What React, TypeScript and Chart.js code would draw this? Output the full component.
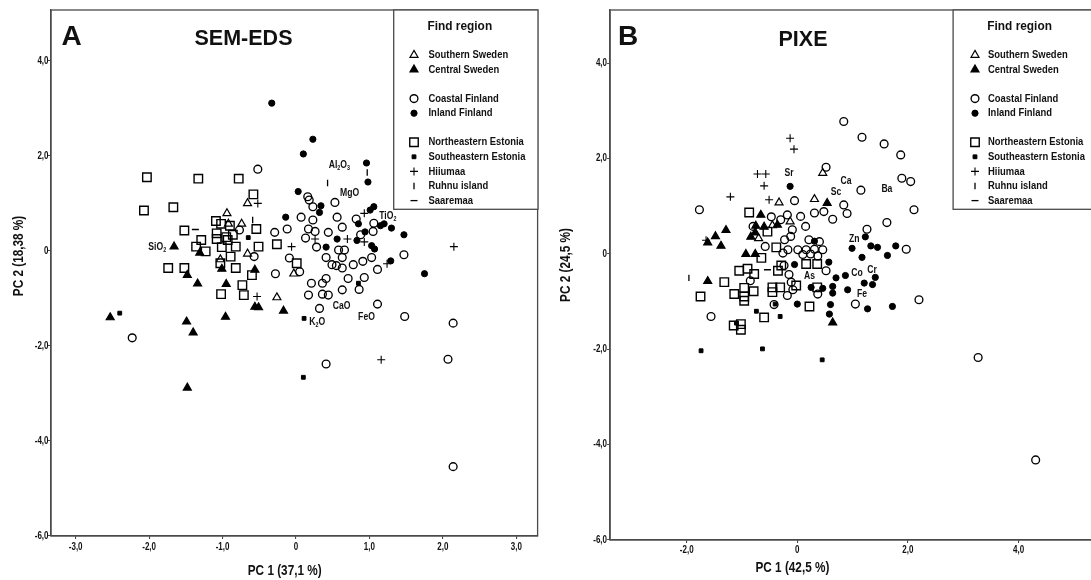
import React, { useEffect, useRef } from 'react';
import { Chart, registerables } from 'chart.js';

Chart.register(...registerables);

type Pt = [number, number];

const regionNames = [
  'Southern Sweden', 'Central Sweden', 'Coastal Finland', 'Inland Finland',
  'Northeastern Estonia', 'Southeastern Estonia', 'Hiiumaa', 'Ruhnu island', 'Saaremaa',
];

// ---------- Panel A : SEM-EDS ----------
const semSouthernSweden: Pt[] = [[-0.94,0.79],[-0.92,0.57],[-0.74,0.57],[-0.66,1.00],[-0.66,-0.06],[-1.03,-0.18],[-0.03,-0.48],[-0.26,-0.98]];
const semCentralSweden: Pt[] = [[-1.66,0.09],[-1.31,-0.04],[-1.48,-0.51],[-1.34,-0.69],[-0.95,-0.70],[-1.01,-0.38],[-0.56,-0.40],[-0.56,-1.18],[-0.51,-1.19],[-0.17,-1.26],[-1.49,-1.49],[-0.96,-1.39],[-1.40,-1.72],[-2.53,-1.40],[-1.48,-2.88]];
const semCoastalFinland: Pt[] = [[-0.52,1.72],[-0.77,0.44],[-0.57,-0.12],[-0.29,0.39],[-0.12,0.46],[-0.09,-0.15],[0.07,0.71],[0.23,0.65],[0.17,0.46],[0.26,0.41],[0.13,0.27],[0.28,0.08],[0.16,1.14],[0.18,1.07],[0.23,0.93],[0.53,1.02],[0.56,0.71],[0.44,0.39],[0.63,0.50],[0.82,0.67],[0.88,0.34],[1.06,0.58],[1.05,0.41],[0.58,0.02],[0.66,0.02],[0.41,-0.14],[0.63,-0.14],[0.49,-0.29],[0.55,-0.31],[0.63,-0.36],[0.78,-0.29],[0.91,-0.22],[1.03,-0.14],[1.11,-0.39],[1.47,-0.08],[-0.28,-0.48],[0.05,-0.44],[0.41,-0.58],[0.21,-0.68],[0.36,-0.68],[0.71,-0.58],[0.93,-0.56],[0.17,-0.93],[0.36,-0.91],[0.44,-0.93],[0.63,-0.82],[0.86,-0.81],[0.32,-1.21],[1.11,-1.12],[1.48,-1.38],[2.14,-1.52],[-2.23,-1.83],[0.41,-2.38],[2.07,-2.28],[2.14,-4.54]];
const semInlandFinland: Pt[] = [[-0.33,3.11],[0.23,2.35],[0.10,2.04],[0.96,1.85],[0.98,1.45],[0.03,1.25],[0.34,0.95],[0.32,0.81],[1.06,0.93],[1.01,0.86],[-0.14,0.71],[0.85,0.57],[1.15,0.53],[1.20,0.57],[1.30,0.48],[1.47,0.34],[0.94,0.40],[0.56,0.25],[0.83,0.22],[0.41,0.08],[1.03,0.11],[1.07,0.04],[1.29,-0.21],[1.75,-0.48]];
const semNEEstonia: Pt[] = [[-2.03,1.55],[-1.33,1.52],[-0.78,1.52],[-2.07,0.85],[-1.67,0.92],[-0.58,1.19],[-1.52,0.43],[-1.29,0.23],[-1.36,0.09],[-1.23,-0.01],[-1.09,0.63],[-1.02,0.57],[-1.08,0.25],[-1.08,0.37],[-0.90,0.53],[-1.01,0.08],[-0.93,0.23],[-0.86,0.34],[-0.95,0.29],[-0.82,0.09],[-0.54,0.46],[-0.51,0.09],[-0.26,0.14],[-0.89,-0.12],[-1.03,-0.26],[-0.82,-0.36],[-1.74,-0.36],[-1.52,-0.36],[0.01,-0.26],[-0.60,-0.51],[-0.73,-0.72],[-1.02,-0.91],[-0.71,-0.93]];
const semSEEstonia: Pt[] = [[-2.40,-1.31],[0.11,-1.42],[0.10,-2.66],[-0.65,0.28],[0.85,-0.68]];
const semHiiumaa: Pt[] = [[-0.52,1.00],[-0.06,0.09],[0.26,0.25],[0.70,0.25],[0.93,0.79],[0.93,0.19],[2.15,0.09],[1.24,-0.27],[-0.53,-0.96],[1.16,-2.29]];
const semRuhnu: Pt[] = [[0.97,1.65],[0.43,1.43],[-0.59,0.65]];
const semSaaremaa: Pt[] = [[-1.37,0.45]];

const semXTicks = [-3, -2, -1, 0, 1, 2, 3];
const semYTicks = [-6, -4, -2, 0, 2, 4];
const semLoadingNames = ['SiO_2', 'Al_2O_3', 'MgO', 'TiO_2', 'CaO', 'K_2O', 'FeO'];
const semLoadingX = [-1.89, 0.59, 0.73, 1.25, 0.62, 0.29, 0.96];
const semLoadingY = [0.09, 1.81, 1.21, 0.74, -1.17, -1.49, -1.40];

// ---------- Panel B : PIXE ----------
const pixeSouthernSweden: Pt[] = [[0.46,1.70],[-0.33,1.08],[0.31,1.15],[-0.13,0.68],[-0.70,0.33],[-0.45,0.60]];
const pixeCentralSweden: Pt[] = [[0.54,1.07],[-0.66,0.82],[-1.29,0.50],[-1.48,0.37],[-1.62,0.24],[-1.38,0.17],[-0.75,0.59],[-0.60,0.57],[-0.36,0.61],[-0.84,0.36],[-0.76,0.45],[-0.93,0.00],[-0.76,0.00],[-1.62,-0.57],[0.64,-1.44]];
const pixeCoastalFinland: Pt[] = [[0.84,2.78],[1.17,2.45],[1.57,2.31],[1.87,2.08],[1.89,1.59],[2.05,1.52],[2.11,0.93],[1.62,0.66],[1.26,0.52],[1.15,1.34],[0.52,1.82],[0.84,1.03],[0.90,0.85],[0.64,0.73],[0.48,0.89],[0.31,0.86],[-0.05,1.12],[-1.77,0.93],[0.06,0.79],[-0.18,0.82],[-0.47,0.78],[-0.30,0.72],[0.15,0.58],[-0.09,0.51],[-0.80,0.58],[-0.12,0.37],[-0.23,0.30],[-0.58,0.16],[0.21,0.30],[0.40,0.26],[1.97,0.10],[-0.17,0.09],[0.01,0.09],[0.16,0.09],[0.31,0.10],[0.46,0.09],[-0.26,0.02],[0.10,-0.01],[0.24,0.00],[0.37,-0.04],[-0.24,-0.24],[0.52,-0.35],[-0.15,-0.43],[-0.85,-0.56],[-0.11,-0.59],[-0.08,-0.75],[-0.18,-0.87],[0.37,-0.84],[1.05,-1.05],[2.20,-0.96],[-0.42,-1.06],[-1.56,-1.31],[3.27,-2.17],[4.31,-4.32]];
const pixeInlandFinland: Pt[] = [[-0.13,1.42],[1.23,0.36],[0.31,0.27],[0.99,0.12],[1.33,0.17],[1.45,0.14],[1.78,0.17],[1.17,-0.07],[1.63,-0.03],[-0.05,-0.22],[0.57,-0.17],[0.70,-0.50],[0.87,-0.45],[1.41,-0.49],[1.21,-0.61],[1.36,-0.64],[0.25,-0.70],[0.46,-0.72],[0.64,-0.68],[0.64,-0.82],[0.91,-0.75],[0.00,-1.05],[0.60,-1.06],[1.27,-1.15],[1.72,-1.10],[0.58,-1.26]];
const pixeNEEstonia: Pt[] = [[-0.87,0.87],[-0.54,0.47],[-0.38,0.14],[-0.65,-0.08],[-1.05,-0.35],[-0.90,-0.31],[-0.78,-0.42],[-1.32,-0.59],[-1.75,-0.89],[-1.14,-0.84],[-0.96,-0.71],[-0.96,-0.89],[-0.79,-0.78],[-0.96,-0.98],[-0.45,-0.70],[-0.45,-0.80],[-0.31,-0.70],[-0.29,-0.24],[-0.35,-0.35],[-0.02,-0.66],[0.16,-0.21],[0.36,-0.21],[0.36,-0.70],[0.22,-1.10],[-0.60,-1.33],[-1.15,-1.50],[-1.02,-1.47],[-1.02,-1.59]];
const pixeSEEstonia: Pt[] = [[-1.74,-2.03],[-0.63,-1.99],[0.45,-2.22],[-0.74,-1.20],[-0.31,-1.31],[-0.40,-1.05],[-1.10,-1.45]];
const pixeHiiumaa: Pt[] = [[-0.13,2.43],[-0.06,2.20],[-0.72,1.68],[-0.57,1.68],[-0.60,1.43],[-1.21,1.20],[-0.51,1.14],[-1.65,0.29]];
const pixeRuhnu: Pt[] = [[-1.96,-0.50]];
const pixeSaaremaa: Pt[] = [[-0.54,-0.33]];

const pixeXTicks = [-2, 0, 2, 4];
const pixeYTicks = [-6, -4, -2, 0, 2, 4];
const pixeLoadingNames = ['Sr', 'Ca', 'Sc', 'Ba', 'Zn', 'As', 'Co', 'Cr', 'Fe'];
const pixeLoadingX = [-0.15, 0.88, 0.70, 1.62, 1.03, 0.22, 1.08, 1.35, 1.17];
const pixeLoadingY = [1.69, 1.54, 1.29, 1.36, 0.32, -0.47, -0.40, -0.33, -0.84];

// ---------- styles ----------
const FONT = '"Liberation Sans", Arial, Helvetica, sans-serif';
const FRAME = '#4a4a4a';
const INK = '#111';

type Sym = { style: 'circle' | 'triangle' | 'rect' | 'cross' | 'line'; r: number; fill: boolean; rot: number; lw: number };
const symbols: Sym[] = [
  { style: 'triangle', r: 4.6, fill: false, rot: 0, lw: 1.2 },
  { style: 'triangle', r: 4.6, fill: true, rot: 0, lw: 1.2 },
  { style: 'circle', r: 3.9, fill: false, rot: 0, lw: 1.35 },
  { style: 'circle', r: 3.1, fill: true, rot: 0, lw: 1 },
  { style: 'rect', r: 6.0, fill: false, rot: 0, lw: 1.4 },
  { style: 'rect', r: 2.7, fill: true, rot: 0, lw: 1 },
  { style: 'cross', r: 4.0, fill: false, rot: 0, lw: 1.1 },
  { style: 'line', r: 3.2, fill: false, rot: 90, lw: 1.3 },
  { style: 'line', r: 3.5, fill: false, rot: 0, lw: 1.3 },
];

type Layout = {
  canvasLeft: number; canvasW: number; canvasH: number;
  area: { l: number; t: number; r: number; b: number };
  letterX: number; titleX: number; titleY: number;
  legend: { l: number; r: number; b: number; symX: number; textX: number; headX: number };
  xTitleX: number; xTitleY: number; yTitleX: number; yTitleY: number;
  xTickY: number; yTickRight: number;
};

type Panel = {
  letter: string; title: string; xTitle: string; yTitle: string;
  series: Pt[][]; xRange: [number, number]; yRange: [number, number];
  xTicks: number[]; yTicks: number[];
  loadNames: string[]; loadX: number[]; loadY: number[];
  layout: Layout;
};

const panels: Panel[] = [
  {
    letter: 'A', title: 'SEM-EDS', xTitle: 'PC 1 (37,1 %)', yTitle: 'PC 2 (18,38 %)',
    series: [semSouthernSweden, semCentralSweden, semCoastalFinland, semInlandFinland, semNEEstonia, semSEEstonia, semHiiumaa, semRuhnu, semSaaremaa],
    xRange: [-3.336, 3.29], yRange: [-6, 5.07], xTicks: semXTicks, yTicks: semYTicks,
    loadNames: semLoadingNames, loadX: semLoadingX, loadY: semLoadingY,
    layout: {
      canvasLeft: 0, canvasW: 545, canvasH: 580,
      area: { l: 51, t: 10, r: 538, b: 536 },
      letterX: 61.5, titleX: 243.5, titleY: 44.5,
      legend: { l: 393.7, r: 538, b: 209.3, symX: 414, textX: 428.5, headX: 459.8 },
      xTitleX: 284.7, xTitleY: 571.5, yTitleX: 19.5, yTitleY: 256,
      xTickY: 547.3, yTickRight: 48.5,
    },
  },
  {
    letter: 'B', title: 'PIXE', xTitle: 'PC 1 (42,5 %)', yTitle: 'PC 2 (24,5 %)',
    series: [pixeSouthernSweden, pixeCentralSweden, pixeCoastalFinland, pixeInlandFinland, pixeNEEstonia, pixeSEEstonia, pixeHiiumaa, pixeRuhnu, pixeSaaremaa],
    xRange: [-3.385, 5.43], yRange: [-6, 5.12], xTicks: pixeXTicks, yTicks: pixeYTicks,
    loadNames: pixeLoadingNames, loadX: pixeLoadingX, loadY: pixeLoadingY,
    layout: {
      canvasLeft: 545, canvasW: 560, canvasH: 580,
      area: { l: 65.1, t: 10, r: 555, b: 540 },
      letterX: 73, titleX: 258, titleY: 45.5,
      legend: { l: 408.1, r: 556, b: 209.3, symX: 430, textX: 443, headX: 474.6 },
      xTitleX: 247.4, xTitleY: 568.3, yTitleX: 21.6, yTitleY: 265,
      xTickY: 550, yTickRight: 62,
    },
  },
];

const legendRowY = [55, 69.6, 98.6, 113.2, 142.2, 156.8, 171.4, 186, 200.6];

// ---------- drawing helpers ----------
function fmtTick(v: number): string {
  return v === 0 ? '0' : v.toFixed(1).replace('.', ',');
}

function drawText(
  ctx: CanvasRenderingContext2D, s: string, x: number, y: number, size: number,
  align: 'left' | 'center' | 'right' = 'left', sx = 1, baseline: CanvasTextBaseline = 'middle', weight = 'bold',
) {
  ctx.save();
  ctx.font = `${weight} ${size}px ${FONT}`;
  ctx.textBaseline = baseline;
  ctx.textAlign = 'left';
  ctx.fillStyle = INK;
  const w = ctx.measureText(s).width * sx;
  const left = align === 'left' ? x : align === 'center' ? x - w / 2 : x - w;
  ctx.translate(left, y);
  ctx.scale(sx, 1);
  ctx.fillText(s, 0, 0);
  ctx.restore();
}

function drawRich(ctx: CanvasRenderingContext2D, s: string, x: number, y: number, size: number, sx: number) {
  const parts: { t: string; sub: boolean }[] = [];
  const re = /_(\d)/g;
  let last = 0;
  let m: RegExpExecArray | null;
  while ((m = re.exec(s))) {
    if (m.index > last) parts.push({ t: s.slice(last, m.index), sub: false });
    parts.push({ t: m[1], sub: true });
    last = m.index + m[0].length;
  }
  if (last < s.length) parts.push({ t: s.slice(last), sub: false });
  const subSize = size * 0.62;
  ctx.save();
  const widths = parts.map((p) => {
    ctx.font = `bold ${p.sub ? subSize : size}px ${FONT}`;
    return ctx.measureText(p.t).width * sx;
  });
  ctx.restore();
  const total = widths.reduce((a, b) => a + b, 0);
  let cx = x - total / 2;
  parts.forEach((p, i) => {
    drawText(ctx, p.t, cx, p.sub ? y + size * 0.32 : y, p.sub ? subSize : size, 'left', sx);
    cx += widths[i];
  });
}

function drawSymbol(ctx: CanvasRenderingContext2D, sym: Sym, x: number, y: number) {
  const r = sym.r;
  ctx.save();
  ctx.lineWidth = sym.lw;
  ctx.strokeStyle = '#000';
  ctx.fillStyle = '#000';
  ctx.beginPath();
  if (sym.style === 'circle') {
    ctx.arc(x, y, r, 0, Math.PI * 2);
  } else if (sym.style === 'triangle') {
    ctx.moveTo(x, y - r);
    ctx.lineTo(x + r * 0.866, y + r / 2);
    ctx.lineTo(x - r * 0.866, y + r / 2);
    ctx.closePath();
  } else if (sym.style === 'rect') {
    const h = r * Math.SQRT1_2;
    ctx.rect(x - h, y - h, 2 * h, 2 * h);
  } else if (sym.style === 'cross') {
    ctx.moveTo(x - r, y); ctx.lineTo(x + r, y);
    ctx.moveTo(x, y - r); ctx.lineTo(x, y + r);
  } else {
    if (sym.rot === 90) { ctx.moveTo(x, y - r); ctx.lineTo(x, y + r); }
    else { ctx.moveTo(x - r, y); ctx.lineTo(x + r, y); }
  }
  if (sym.fill) ctx.fill();
  ctx.stroke();
  ctx.restore();
}

function makeDecor(panel: Panel) {
  const L = panel.layout;
  return {
    id: 'decor' + panel.letter,
    afterDraw(chart: any) {
      const ctx: CanvasRenderingContext2D = chart.ctx;
      const { left, top, right, bottom } = chart.chartArea;
      const xs = chart.scales.x;
      const ys = chart.scales.y;

      // frame
      ctx.save();
      ctx.strokeStyle = FRAME;
      ctx.lineWidth = 1.3;
      ctx.strokeRect(left, top, right - left, bottom - top);
      ctx.restore();

      // tick labels
      panel.xTicks.forEach((v) => drawText(ctx, fmtTick(v), xs.getPixelForValue(v), L.xTickY, 10, 'center', 0.8));
      panel.yTicks.forEach((v) => drawText(ctx, fmtTick(v), L.yTickRight, ys.getPixelForValue(v), 10, 'right', 0.8));

      // loading labels
      panel.loadNames.forEach((n, i) =>
        drawRich(ctx, n, xs.getPixelForValue(panel.loadX[i]), ys.getPixelForValue(panel.loadY[i]), 10.5, 0.82));

      // letter + title
      drawText(ctx, panel.letter, L.letterX, 45, 28, 'left', 1, 'alphabetic');
      drawText(ctx, panel.title, L.titleX, L.titleY, 21.5, 'center', 1, 'alphabetic');

      // axis titles
      drawText(ctx, panel.xTitle, L.xTitleX, L.xTitleY, 14, 'center', 0.84);
      ctx.save();
      ctx.translate(L.yTitleX, L.yTitleY);
      ctx.rotate(-Math.PI / 2);
      drawText(ctx, panel.yTitle, 0, 0, 14, 'center', 0.84);
      ctx.restore();

      // legend
      const lg = L.legend;
      ctx.save();
      ctx.fillStyle = '#fff';
      ctx.fillRect(lg.l, top, lg.r - lg.l, lg.b - top);
      ctx.strokeStyle = FRAME;
      ctx.lineWidth = 1.3;
      ctx.strokeRect(lg.l, top, lg.r - lg.l, lg.b - top);
      ctx.restore();
      drawText(ctx, 'Find region', lg.headX, 26, 13.5, 'center', 0.88);
      regionNames.forEach((name, i) => {
        drawSymbol(ctx, symbols[i], lg.symX, legendRowY[i]);
        drawText(ctx, name, lg.textX, legendRowY[i], 11.5, 'left', 0.82);
      });
    },
  };
}

function buildChart(canvas: HTMLCanvasElement, panel: Panel) {
  const L = panel.layout;
  const datasets = panel.series.map((pts, i) => {
    const s = symbols[i];
    return {
      label: regionNames[i],
      data: pts.map(([x, y]) => ({ x, y })),
      pointStyle: s.style,
      pointRadius: s.r,
      pointRotation: s.rot,
      pointBorderWidth: s.lw,
      pointBorderColor: '#000',
      pointBackgroundColor: s.fill ? '#000' : 'rgba(0,0,0,0)',
      showLine: false,
    };
  });
  return new Chart(canvas, {
    type: 'scatter',
    data: { datasets },
    options: {
      animation: false,
      responsive: false,
      maintainAspectRatio: false,
      events: [],
      layout: { padding: { left: 0, top: L.area.t, right: L.canvasW - L.area.r, bottom: 0 } },
      plugins: { legend: { display: false }, tooltip: { enabled: false }, title: { display: false } },
      scales: {
        x: {
          type: 'linear', position: 'bottom', min: panel.xRange[0], max: panel.xRange[1],
          afterBuildTicks: (sc: any) => { sc.ticks = panel.xTicks.map((v) => ({ value: v })); },
          afterFit: (sc: any) => { sc.height = L.canvasH - L.area.b; },
          ticks: { display: false },
          grid: { display: true, drawOnChartArea: false, drawTicks: true, tickLength: 3, color: FRAME, lineWidth: 1.1 },
          border: { display: true, color: FRAME, width: 1.3 },
        },
        y: {
          type: 'linear', position: 'left', min: panel.yRange[0], max: panel.yRange[1],
          afterBuildTicks: (sc: any) => { sc.ticks = panel.yTicks.map((v) => ({ value: v })); },
          afterFit: (sc: any) => { sc.width = L.area.l; },
          ticks: { display: false },
          grid: { display: true, drawOnChartArea: false, drawTicks: true, tickLength: 3, color: FRAME, lineWidth: 1.1 },
          border: { display: true, color: FRAME, width: 1.3 },
        },
      },
    } as any,
    plugins: [makeDecor(panel)],
  });
}

export default function App() {
  const refA = useRef<HTMLCanvasElement>(null);
  const refB = useRef<HTMLCanvasElement>(null);

  useEffect(() => {
    const charts: Chart[] = [];
    if (refA.current) charts.push(buildChart(refA.current, panels[0]));
    if (refB.current) charts.push(buildChart(refB.current, panels[1]));
    return () => charts.forEach((c) => c.destroy());
  }, []);

  const refs = [refA, refB];
  return (
    <div style={{ position: 'absolute', left: 0, top: 0, width: 1091, height: 580, overflow: 'hidden', background: '#fff' }}>
      {panels.map((p, i) => (
        <canvas
          key={p.letter}
          ref={refs[i]}
          width={p.layout.canvasW}
          height={p.layout.canvasH}
          style={{ position: 'absolute', left: p.layout.canvasLeft, top: 0, width: p.layout.canvasW, height: p.layout.canvasH }}
        />
      ))}
    </div>
  );
}
